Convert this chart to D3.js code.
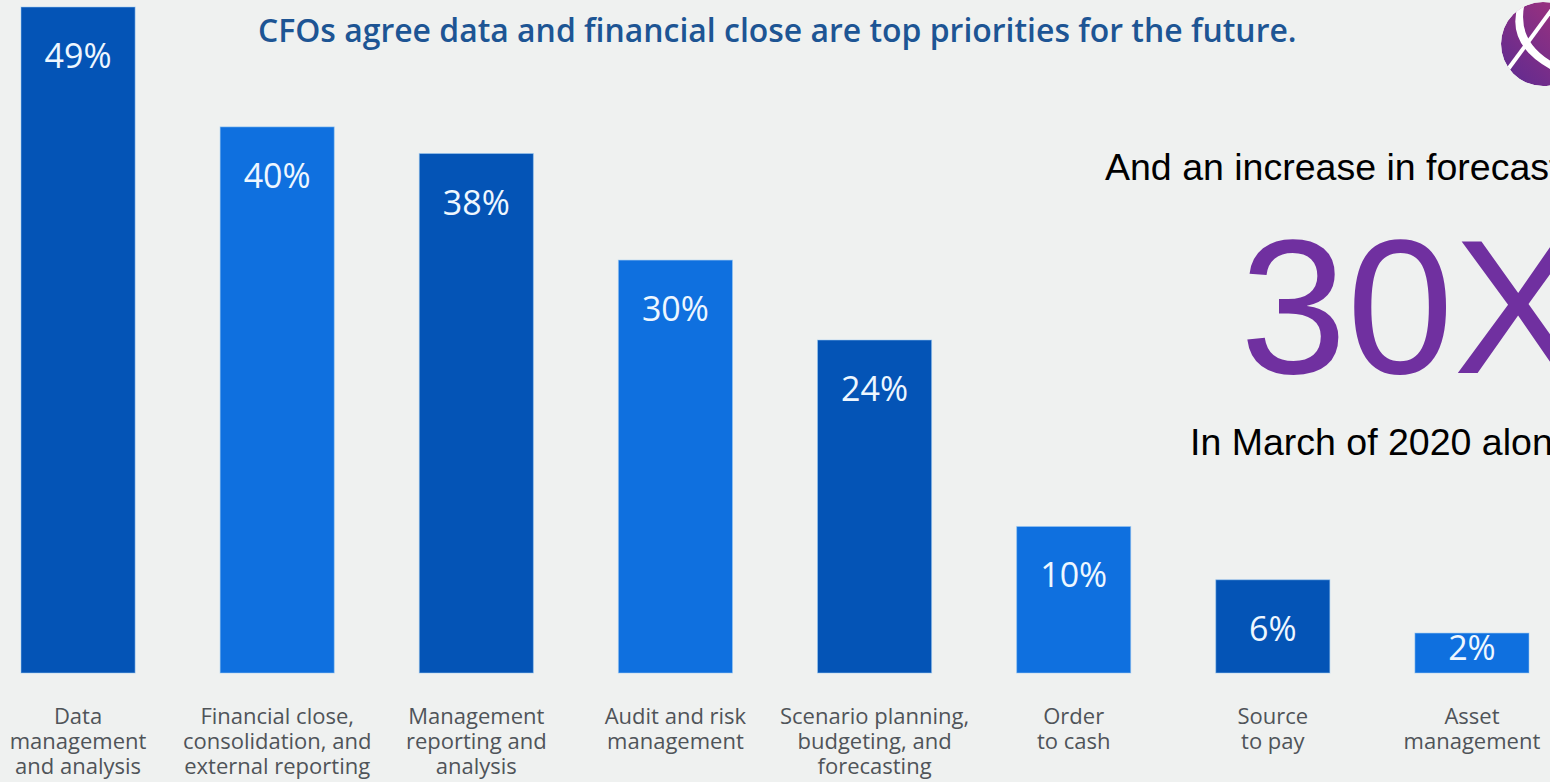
<!DOCTYPE html>
<html>
<head>
<meta charset="utf-8">
<script src="https://cdn.jsdelivr.net/npm/d3@7"></script>
<style>
  html, body { margin: 0; padding: 0; background: #eff1f0; overflow: hidden; }
  svg { display: block; }
</style>
</head>
<body>
<svg id="chart" width="1550" height="782"></svg>
<script>
// Priority areas and share of CFOs naming each one
const categories = [
  ["Data", "management", "and analysis"],
  ["Financial close,", "consolidation, and", "external reporting"],
  ["Management", "reporting and", "analysis"],
  ["Audit and risk", "management"],
  ["Scenario planning,", "budgeting, and", "forecasting"],
  ["Order", "to cash"],
  ["Source", "to pay"],
  ["Asset", "management"]
];
const values = [49, 40, 38, 30, 24, 10, 6, 2];
const valueLabels = ["49%", "40%", "38%", "30%", "24%", "10%", "6%", "2%"];
const barColors = ["#0454b6", "#0f70df"];

const title = "CFOs agree data and financial close are top priorities for the future.";
const sideLead = "And an increase in forecasting";
const sideFigure = "30X";
const sideNote = "In March of 2020 alone";

const svg = d3.select("#chart");
const W = 1550, H = 782;

svg.append("rect").attr("width", W).attr("height", H).attr("fill", "#eff1f0");

const keys = categories.map((c, i) => i);
const x = d3.scaleBand().domain(keys).range([21, 1529]).paddingInner(0.427).paddingOuter(0);
const y = d3.scaleLinear().domain([-1, 49]).range([673, 7]);

const bars = svg.append("g").attr("class", "bars");
bars.selectAll("rect")
  .data(values)
  .join("rect")
  .attr("x", (d, i) => x(i))
  .attr("y", d => y(d))
  .attr("width", x.bandwidth())
  .attr("height", d => y(-1) - y(d))
  .attr("fill", (d, i) => barColors[i % 2])
  .attr("stroke", "#9ccaf3")
  .attr("stroke-opacity", 0.55)
  .attr("stroke-width", 1);

// value labels sit near the top of each bar, kept inside short bars
bars.selectAll("text")
  .data(values)
  .join("text")
  .attr("x", (d, i) => x(i) + x.bandwidth() / 2)
  .attr("y", d => Math.min(y(d) + 61, y(-1) - 13))
  .attr("text-anchor", "middle")
  .attr("font-family", "'Open Sans', sans-serif")
  .attr("font-size", 34)
  .attr("fill", "#eef7ff")
  .text((d, i) => valueLabels[i]);

// category names under the bars
const cat = svg.append("g").attr("class", "categories");
categories.forEach((lines, i) => {
  const t = cat.append("text")
    .attr("x", x(i) + x.bandwidth() / 2)
    .attr("y", 724)
    .attr("text-anchor", "middle")
    .attr("font-family", "'Open Sans', sans-serif")
    .attr("font-size", 22)
    .attr("fill", "#4f5459");
  lines.forEach((ln, j) => {
    t.append("tspan").attr("x", x(i) + x.bandwidth() / 2).attr("dy", j === 0 ? 0 : 25).text(ln);
  });
});

// headline, sized to span its line
const titleEl = svg.append("text")
  .attr("x", 258)
  .attr("y", 42)
  .attr("font-family", "'Open Sans', sans-serif")
  .attr("font-weight", 600)
  .attr("font-size", 28)
  .attr("fill", "#1d5594")
  .text(title);
const tw = titleEl.node().getComputedTextLength();
titleEl.attr("font-size", 28 * 1039 / tw);

// side panel text, running off the right edge
svg.append("text")
  .attr("x", 1105).attr("y", 180)
  .attr("font-family", "'Liberation Sans', Arial, sans-serif")
  .attr("font-size", 37.5)
  .attr("fill", "#000")
  .text(sideLead);

svg.append("text")
  .attr("x", 1240).attr("y", 373)
  .attr("font-family", "'Liberation Sans', Arial, sans-serif")
  .attr("font-size", 192)
  .attr("fill", "#7030a0")
  .text(sideFigure);

svg.append("text")
  .attr("x", 1190).attr("y", 455)
  .attr("font-family", "'Liberation Sans', Arial, sans-serif")
  .attr("font-size", 37.5)
  .attr("fill", "#000")
  .text(sideNote);

// round logo mark in the corner
const defs = svg.append("defs");
const grad = defs.append("linearGradient").attr("id", "logoGrad")
  .attr("x1", "0%").attr("y1", "100%").attr("x2", "100%").attr("y2", "0%");
grad.append("stop").attr("offset", "0%").attr("stop-color", "#5b2a92");
grad.append("stop").attr("offset", "100%").attr("stop-color", "#a8337a");
defs.append("clipPath").attr("id", "logoClip")
  .append("circle").attr("cx", 1543).attr("cy", 44).attr("r", 42);

const logo = svg.append("g").attr("clip-path", "url(#logoClip)");
logo.append("circle").attr("cx", 1543).attr("cy", 44).attr("r", 42).attr("fill", "url(#logoGrad)");
logo.append("path")
  .attr("d", "M1519,2 Q1503,46 1556,72 L1556,64 Q1515,42 1525,2 Z")
  .attr("fill", "#ffffff");
logo.append("path")
  .attr("d", "M1506,72 L1556,4")
  .attr("stroke", "#ffffff")
  .attr("stroke-width", 4)
  .attr("fill", "none");
</script>
</body>
</html>
